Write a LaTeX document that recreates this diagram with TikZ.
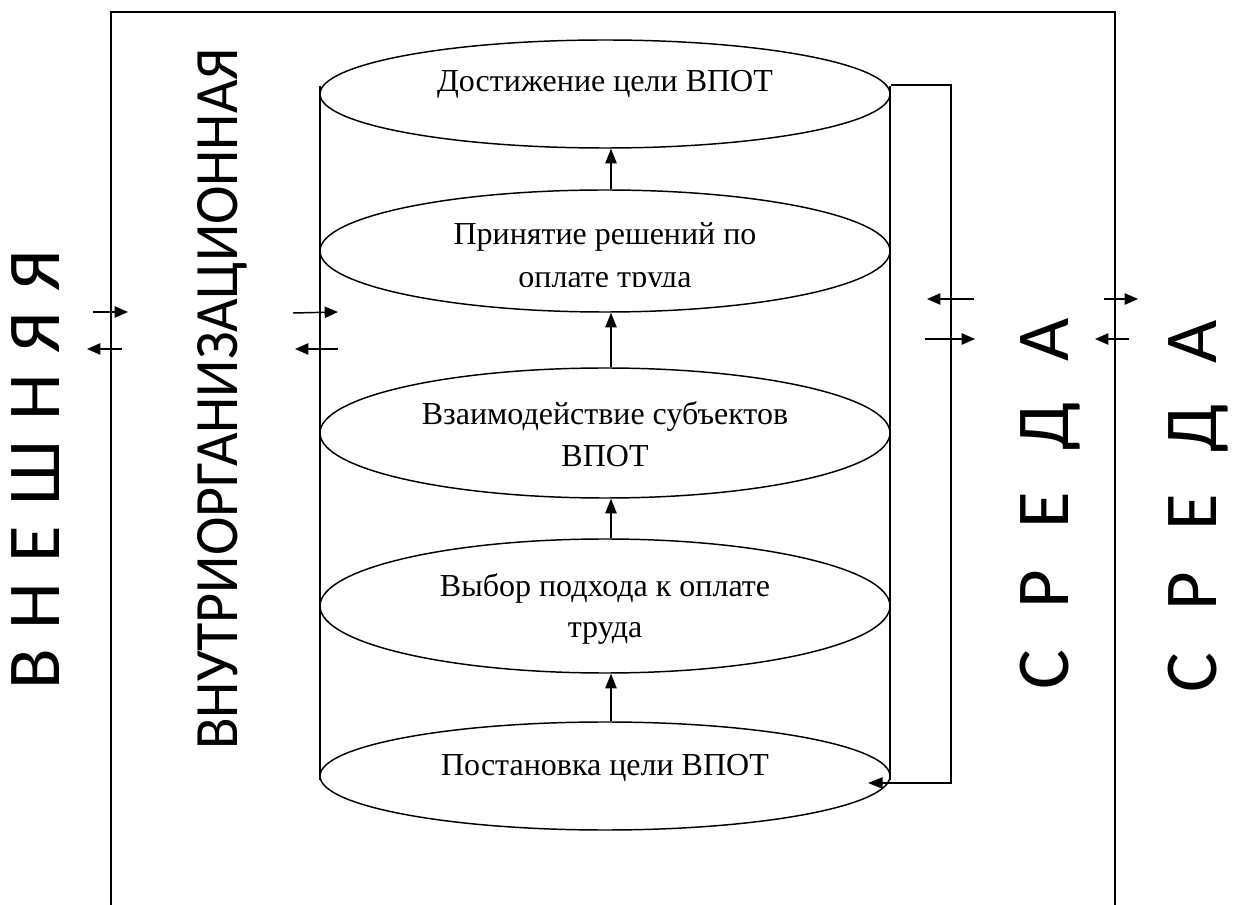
\documentclass[tikz,border=0pt]{standalone}
\usepackage{fontspec}
\setmainfont{Liberation Serif}
\newfontfamily\bigsans{Carlito}
\usetikzlibrary{arrows.meta,shapes.geometric}
\tikzset{
  stage/.style={draw, line width=1.1pt, ellipse, minimum width=427.5pt, inner sep=0pt},
  caption/.style={font=\fontsize{24}{28}\selectfont, anchor=base, inner sep=0pt},
  flow/.style={line width=1.2pt, -{Triangle[length=11pt,width=8.5pt]}},
  swap/.style={line width=1.1pt, -{Triangle[length=10pt,width=8.5pt]}},
  envlabel/.style={rotate=90, anchor=base, inner sep=0pt},
  envfont/.style={font=\bigsans\fontsize{56}{60}\selectfont},
}
\begin{document}
\begin{tikzpicture}[x=0.75pt,y=-0.75pt]
\useasboundingbox (0,0) rectangle (1233,905);

% frame of the organisation
\draw[line width=1.2pt] (111,905) -- (111,12) -- (1115,12) -- (1115,905);

% walls of the cylinder
\draw[line width=1.1pt] (320,86) -- (320,780);
\draw[line width=1.1pt] (890,86) -- (890,780);

% stages
\node[stage, minimum height=81pt]   (e1) at (605,94)  {};
\node[stage, minimum height=91.5pt] (e2) at (605,251) {};
\node[stage, minimum height=97.5pt] (e3) at (605,433) {};
\node[stage, minimum height=100.5pt](e4) at (605,606) {};
\node[stage, minimum height=81pt]   (e5) at (605,776) {};

% stage captions
\node[caption] (t1) at (605,92) {Достижение цели ВПОТ};
\begin{scope}
  \clip (300,150) rectangle (900,287);
  \node[caption] (t2a) at (605,245) {Принятие решений по};
  \node[caption] (t2b) at (605,288) {оплате труда};
\end{scope}
\node[caption] (t3a) at (605,425) {Взаимодействие субъектов};
\node[caption] (t3b) at (605,467) {ВПОТ};
\node[caption] (t4a) at (605,597) {Выбор подхода к оплате};
\node[caption] (t4b) at (605,638) {труда};
\node[caption] (t5) at (605,775) {Постановка цели ВПОТ};

% upward flow between stages
\draw[flow] ([xshift=4.5pt]e2.north) -- ([xshift=4.5pt]e1.south);
\draw[flow] ([xshift=4.5pt]e3.north) -- ([xshift=4.5pt]e2.south);
\draw[flow] ([xshift=4.5pt]e4.north) -- ([xshift=4.5pt]e3.south);
\draw[flow] ([xshift=4.5pt]e5.north) -- ([xshift=4.5pt]e4.south);

% feedback loop from the goal back to goal setting
\draw[flow] ([yshift=6.75pt]e1.east) -- ++(60,0) |- ([xshift=-17pt,yshift=-5.25pt]e5.east);

% exchanges across the boundaries
\draw[swap] (93,312) -- (128,312);
\draw[swap] (122,349) -- (87,349);
\draw[swap] (293,313) -- (338,312);
\draw[swap] (338,349) -- (295,349);
\draw[swap] (974,299) -- (927,299);
\draw[swap] (925,339) -- (975,339);
\draw[swap] (1104,299) -- (1138,299);
\draw[swap] (1129,339) -- (1095,339);

% environment labels
\node[envlabel, envfont] (outerL) at (60,470) {\makebox[330pt][s]{В Н Е Ш Н Я Я}};
\node[envlabel, envfont] (innerL) at (237,399) {\resizebox{526pt}{30pt}{ВНУТРИОРГАНИЗАЦИОННАЯ}};
\node[envlabel, envfont] (innerR) at (1068,504) {\makebox[279pt][s]{С Р Е Д А}};
\node[envlabel, envfont] (outerR) at (1216,506) {\makebox[279pt][s]{С Р Е Д А}};
\end{tikzpicture}
\end{document}
